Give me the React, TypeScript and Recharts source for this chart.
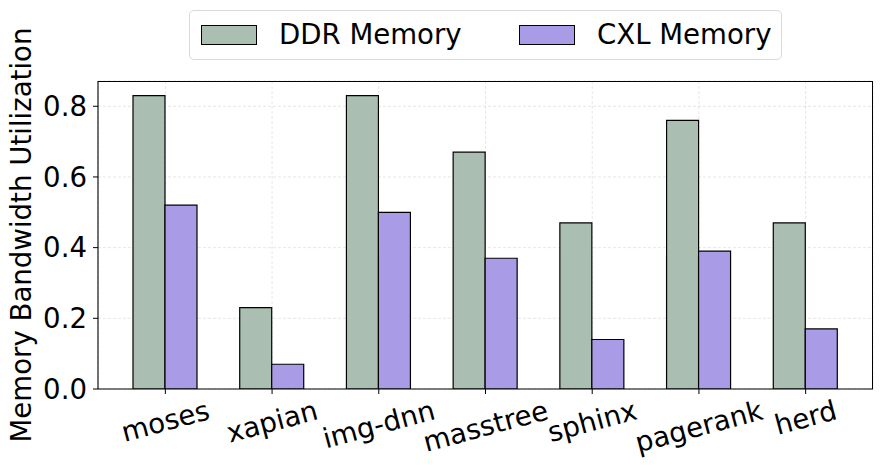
import React from "react";
import { BarChart, Bar, XAxis, YAxis, CartesianGrid } from "recharts";

const benchmarks = ["moses", "xapian", "img-dnn", "masstree", "sphinx", "pagerank", "herd"];
const ddrUtil = [0.83, 0.23, 0.83, 0.67, 0.47, 0.76, 0.47];
const cxlUtil = [0.52, 0.07, 0.5, 0.37, 0.14, 0.39, 0.17];
const yTicks = [0, 0.2, 0.4, 0.6, 0.8];

const data = benchmarks.map((name, i) => ({ name, ddr: ddrUtil[i], cxl: cxlUtil[i] }));

const FONT = '"DejaVu Sans", sans-serif';
const FS = 27.6;
const DDR_COLOR = "#aabfb1";
const CXL_COLOR = "#a99be6";

let ctx: CanvasRenderingContext2D | null = null;
const textWidth = (t: string) => {
  if (!ctx) ctx = document.createElement("canvas").getContext("2d");
  if (!ctx) return t.length * FS * 0.6;
  ctx.font = `${FS}px "DejaVu Sans"`;
  return ctx.measureText(t).width;
};

// matplotlib-style rotated label: rotation 15, ha=center, va=top
const RotatedTick = (props: any) => {
  const { x, payload } = props;
  const w = textWidth(payload.value);
  const h = FS * 1.164;
  const a = (15 * Math.PI) / 180;
  const half = (w / 2) * Math.sin(a) + (h / 2) * Math.cos(a);
  const top = 389 + 5;
  const cy = top + half;
  return (
    <g transform={`translate(${x},${cy}) rotate(-15)`}>
      <text x={0} y={FS * 0.346} textAnchor="middle" fontFamily={FONT} fontSize={FS} fill="#000">
        {payload.value}
      </text>
    </g>
  );
};

const YLabel = () => (
  <text
    x={31}
    y={235}
    transform="rotate(-90, 31, 235)"
    textAnchor="middle"
    fontFamily={FONT}
    fontSize={FS}
    fill="#000"
  >
    Memory Bandwidth Utilization
  </text>
);

const Legend = () => (
  <div
    style={{
      position: "absolute",
      left: 189,
      top: 10,
      width: 593,
      height: 50,
      boxSizing: "border-box",
      border: "1px solid #d9d9d9",
      borderRadius: 5,
      background: "#fff",
      fontFamily: FONT,
      fontSize: FS,
      color: "#000",
    }}
  >
    {[
      { label: "DDR Memory", color: DDR_COLOR, left: 11 },
      { label: "CXL Memory", color: CXL_COLOR, left: 329 },
    ].map((it) => (
      <div key={it.label} style={{ position: "absolute", left: it.left, top: 0, height: 48, display: "flex", alignItems: "center" }}>
        <span style={{ display: "inline-block", width: 56, height: 20, boxSizing: "border-box", background: it.color, border: "1.2px solid #000" }} />
        <span style={{ marginLeft: 22, lineHeight: 1 }}>{it.label}</span>
      </div>
    ))}
  </div>
);

export default function App() {
  return (
    <div style={{ position: "absolute", left: 0, top: 0, width: 882, height: 470, background: "#fff" }}>
      <BarChart
        width={882}
        height={470}
        data={data}
        margin={{ top: 81, right: 9, bottom: 0, left: 0 }}
        barGap={0}
        barSize={32}
      >
        <CartesianGrid stroke="#b0b0b0" strokeOpacity={0.3} strokeDasharray="3 2" vertical horizontal />
        <XAxis
          dataKey="name"
          padding={{ left: 14, right: 14 }}
          height={81}
          interval={0}
          tick={<RotatedTick />}
          tickSize={5}
          tickLine={{ stroke: "#000" }}
          axisLine={{ stroke: "#000", strokeWidth: 1.1 }}
        />
        <YAxis
          width={98}
          domain={[0, 0.8715]}
          ticks={yTicks}
          allowDataOverflow
          tickFormatter={(v: number) => v.toFixed(1)}
          tick={{ fontFamily: FONT, fontSize: FS, fill: "#000" }}
          tickSize={5}
          tickMargin={6}
          tickLine={{ stroke: "#000" }}
          axisLine={{ stroke: "#000", strokeWidth: 1.1 }}
          label={<YLabel />}
        />
        <Bar dataKey="ddr" name="DDR Memory" fill={DDR_COLOR} stroke="#000" strokeWidth={1.2} isAnimationActive={false} />
        <Bar dataKey="cxl" name="CXL Memory" fill={CXL_COLOR} stroke="#000" strokeWidth={1.2} isAnimationActive={false} />
      </BarChart>
      {/* top and right spines */}
      <div
        style={{
          position: "absolute",
          left: 98,
          top: 81,
          width: 775,
          height: 308,
          boxSizing: "border-box",
          borderTop: "1px solid #000",
          borderRight: "1px solid #000",
          pointerEvents: "none",
        }}
      />
      <Legend />
    </div>
  );
}
